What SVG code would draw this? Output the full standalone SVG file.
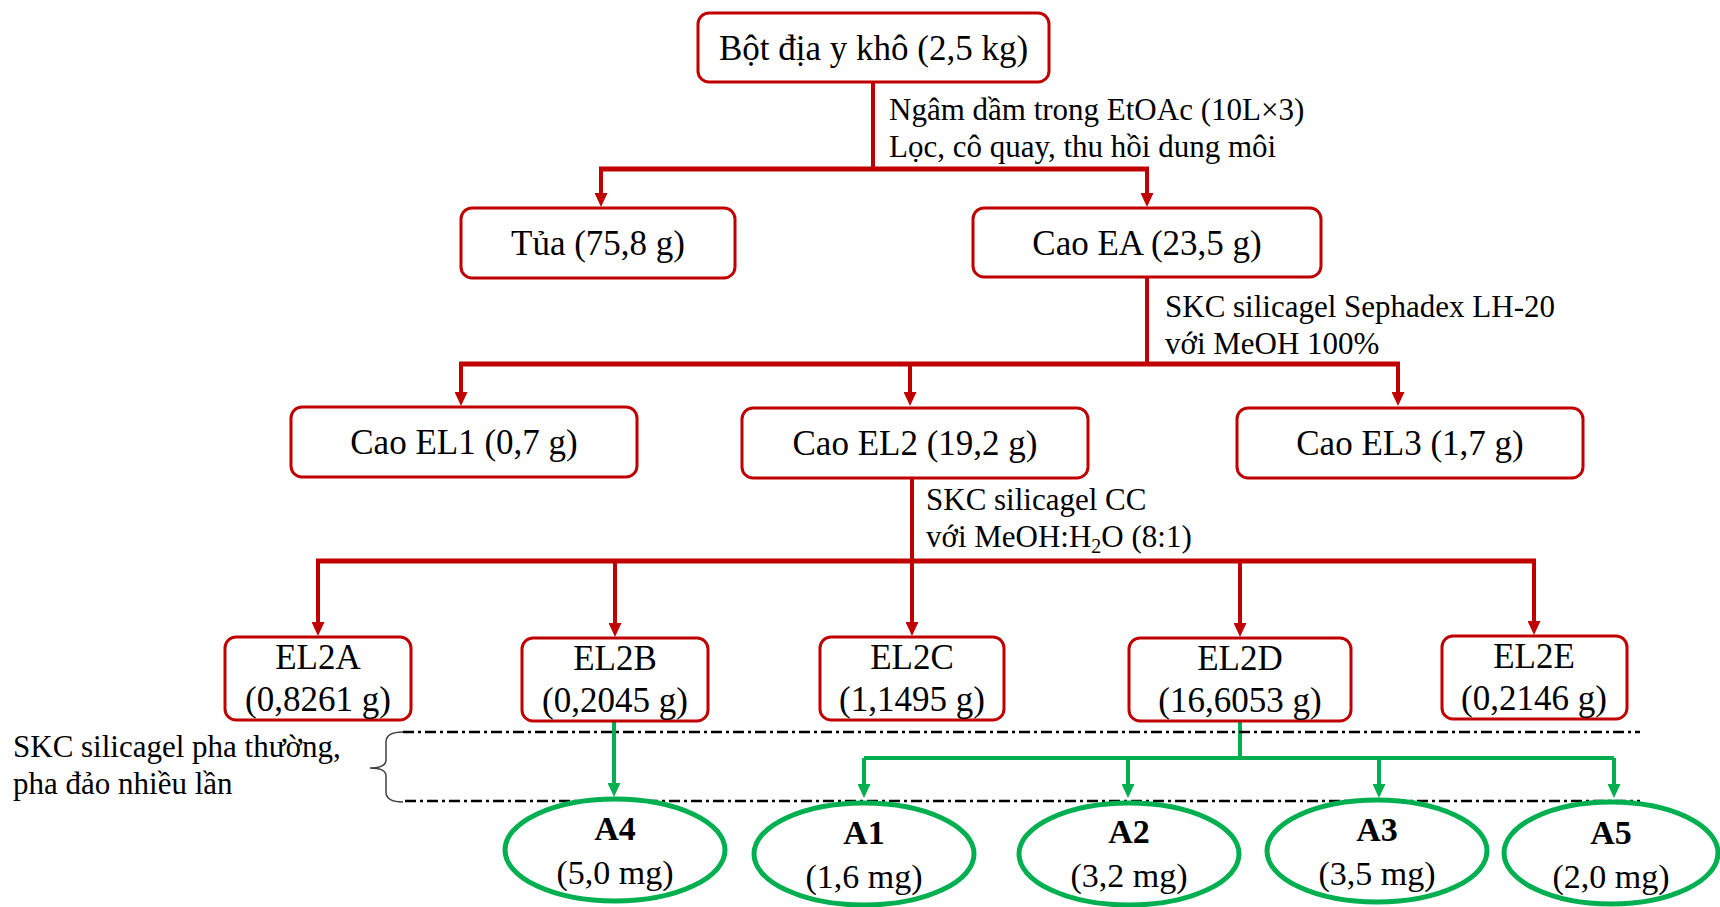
<svg xmlns="http://www.w3.org/2000/svg" width="1720" height="907" viewBox="0 0 1720 907">
<defs>
<style>
.box{fill:#fff;stroke:#C00000;stroke-width:3}
.ell{fill:#fff;stroke:#00B050;stroke-width:5}
.t{font-family:"Liberation Serif","Times New Roman",serif;font-size:35px;fill:#000;text-anchor:middle}
.tb{font-family:"Liberation Serif","Times New Roman",serif;font-size:34px;font-weight:bold;fill:#000;text-anchor:middle}
.tm{font-family:"Liberation Serif","Times New Roman",serif;font-size:34px;fill:#000;text-anchor:middle}
.lab{font-family:"Liberation Serif","Times New Roman",serif;font-size:31px;fill:#000}
.red{fill:none;stroke:#C00000;stroke-width:4}
.redh{fill:none;stroke:#C00000;stroke-width:5}
.grn{fill:none;stroke:#00B050;stroke-width:4}
.dd{fill:none;stroke:#000;stroke-width:2.5;stroke-dasharray:11 4 3 4}
.brace{fill:none;stroke:#404040;stroke-width:1.5}
</style>
<marker id="ar" viewBox="0 0 14 13" refX="6" refY="6.5" markerWidth="14" markerHeight="13" markerUnits="userSpaceOnUse" orient="auto"><path d="M0,0 L14,6.5 L0,13 z" fill="#C00000"/></marker>
<marker id="ag" viewBox="0 0 14 13" refX="6" refY="6.5" markerWidth="14" markerHeight="13" markerUnits="userSpaceOnUse" orient="auto"><path d="M0,0 L14,6.5 L0,13 z" fill="#00B050"/></marker>
</defs>

<g id="connectors">
<path class="red" d="M873,82 V169"/>
<path class="redh" d="M599,169 H1149"/>
<path class="red" d="M601,169 V199" marker-end="url(#ar)"/>
<path class="red" d="M1147,169 V199" marker-end="url(#ar)"/>
<path class="red" d="M1147,277 V364"/>
<path class="redh" d="M459,364 H1400"/>
<path class="red" d="M461,364 V398" marker-end="url(#ar)"/>
<path class="red" d="M910,364 V398" marker-end="url(#ar)"/>
<path class="red" d="M1398,364 V398" marker-end="url(#ar)"/>
<path class="red" d="M912,478 V561"/>
<path class="redh" d="M316,561 H1536"/>
<path class="red" d="M318,561 V628" marker-end="url(#ar)"/>
<path class="red" d="M615,561 V629" marker-end="url(#ar)"/>
<path class="red" d="M912,561 V628" marker-end="url(#ar)"/>
<path class="red" d="M1240,561 V629" marker-end="url(#ar)"/>
<path class="red" d="M1534,561 V627" marker-end="url(#ar)"/>
<path class="grn" d="M614,721 V789" marker-end="url(#ag)"/>
<path class="grn" d="M1240,721 V758"/>
<path class="grn" d="M864,758 H1614"/>
<path class="grn" d="M864,758 V790" marker-end="url(#ag)"/>
<path class="grn" d="M1128,758 V790" marker-end="url(#ag)"/>
<path class="grn" d="M1379,758 V790" marker-end="url(#ag)"/>
<path class="grn" d="M1614,758 V790" marker-end="url(#ag)"/>
</g>

<g id="separators">
<path class="dd" d="M403,732 H1640"/>
<path class="dd" d="M405,801 H1640"/>
<path class="brace" d="M403,732 Q386,732 386,742 L386,760 Q386,768 370,768 Q386,768 386,776 L386,792 Q386,802 403,802"/>
</g>

<g id="labels">
<text class="lab" x="889" y="120">Ngâm dầm trong EtOAc (10L×3)</text>
<text class="lab" x="889" y="157">Lọc, cô quay, thu hồi dung môi</text>
<text class="lab" x="1165" y="317">SKC silicagel Sephadex LH-20</text>
<text class="lab" x="1165" y="354">với MeOH 100%</text>
<text class="lab" x="926" y="510">SKC silicagel CC</text>
<text class="lab" x="926" y="547">với MeOH:H<tspan font-size="20" dy="6">2</tspan><tspan dy="-6">O (8:1)</tspan></text>
<text class="lab" x="13" y="757" font-size="30">SKC silicagel pha thường,</text>
<text class="lab" x="13" y="794" font-size="30">pha đảo nhiều lần</text>
</g>

<g id="n-bot"><rect class="box" x="698" y="13" width="351" height="69" rx="11"/><text class="t" x="873.5" y="60">Bột địa y khô (2,5 kg)</text></g>
<g id="n-tua"><rect class="box" x="461" y="208" width="274" height="70" rx="11"/><text class="t" x="598" y="255">Tủa (75,8 g)</text></g>
<g id="n-caoea"><rect class="box" x="973" y="208" width="348" height="69" rx="11"/><text class="t" x="1147" y="255">Cao EA (23,5 g)</text></g>
<g id="n-el1"><rect class="box" x="291" y="407" width="346" height="70" rx="11"/><text class="t" x="464" y="454">Cao EL1 (0,7 g)</text></g>
<g id="n-el2"><rect class="box" x="742" y="408" width="346" height="70" rx="11"/><text class="t" x="915" y="455">Cao EL2 (19,2 g)</text></g>
<g id="n-el3"><rect class="box" x="1237" y="408" width="346" height="70" rx="11"/><text class="t" x="1410" y="455">Cao EL3 (1,7 g)</text></g>

<g id="n-el2a"><rect class="box" x="225" y="637" width="186" height="83" rx="11"/><text class="t" x="318" y="669">EL2A</text><text class="t" x="318" y="711">(0,8261 g)</text></g>
<g id="n-el2b"><rect class="box" x="522" y="638" width="186" height="83" rx="11"/><text class="t" x="615" y="670">EL2B</text><text class="t" x="615" y="712">(0,2045 g)</text></g>
<g id="n-el2c"><rect class="box" x="820" y="637" width="184" height="83" rx="11"/><text class="t" x="912" y="669">EL2C</text><text class="t" x="912" y="711">(1,1495 g)</text></g>
<g id="n-el2d"><rect class="box" x="1129" y="638" width="222" height="83" rx="11"/><text class="t" x="1240" y="670">EL2D</text><text class="t" x="1240" y="712">(16,6053 g)</text></g>
<g id="n-el2e"><rect class="box" x="1442" y="636" width="185" height="83" rx="11"/><text class="t" x="1534" y="668">EL2E</text><text class="t" x="1534" y="710">(0,2146 g)</text></g>

<g id="n-a4"><ellipse class="ell" cx="615" cy="850" rx="110" ry="51"/><text class="tb" x="615" y="840">A4</text><text class="tm" x="615" y="884">(5,0 mg)</text></g>
<g id="n-a1"><ellipse class="ell" cx="864" cy="854" rx="110" ry="51"/><text class="tb" x="864" y="844">A1</text><text class="tm" x="864" y="888">(1,6 mg)</text></g>
<g id="n-a2"><ellipse class="ell" cx="1129" cy="854" rx="110" ry="51"/><text class="tb" x="1129" y="843">A2</text><text class="tm" x="1129" y="887">(3,2 mg)</text></g>
<g id="n-a3"><ellipse class="ell" cx="1377" cy="851" rx="110" ry="51"/><text class="tb" x="1377" y="841">A3</text><text class="tm" x="1377" y="885">(3,5 mg)</text></g>
<g id="n-a5"><ellipse class="ell" cx="1611" cy="853" rx="107" ry="51"/><text class="tb" x="1611" y="844">A5</text><text class="tm" x="1611" y="888">(2,0 mg)</text></g>
</svg>
